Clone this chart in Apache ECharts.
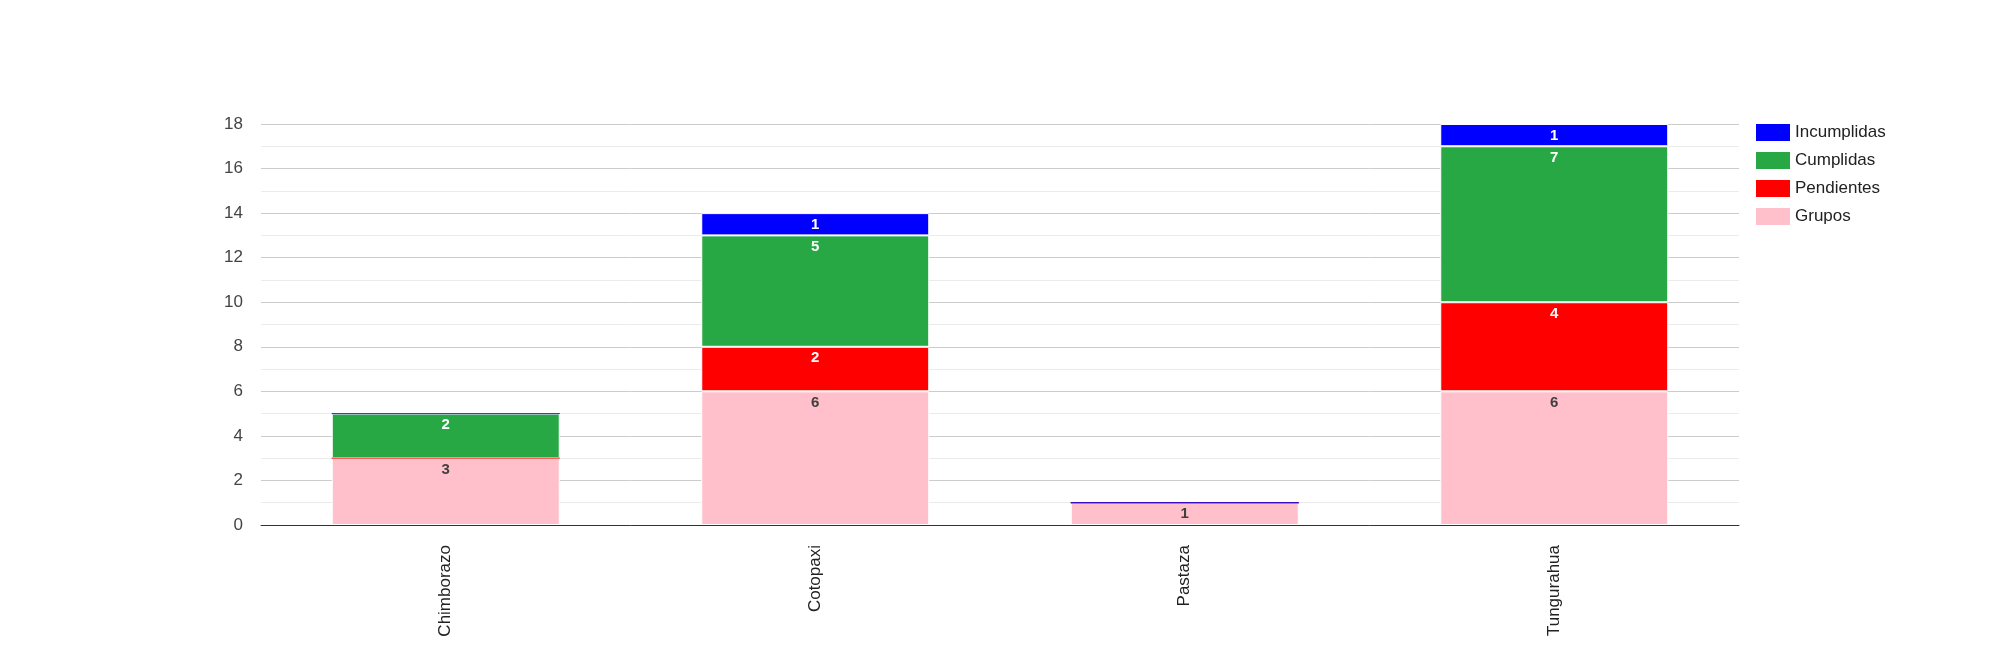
<!DOCTYPE html>
<html>
<head>
<meta charset="utf-8">
<script src="https://cdn.jsdelivr.net/npm/echarts@6/dist/echarts.min.js"></script>
<style>
  html, body { margin: 0; padding: 0; background: #fff; }
  #chart { width: 2000px; height: 650px; }
</style>
</head>
<body>
<div id="chart"></div>
<script>
var categories = ['Chimborazo', 'Cotopaxi', 'Pastaza', 'Tungurahua'];
var grupos = [3, 6, 1, 6];
var pendientes = [0, 2, 0, 4];
var cumplidas = [2, 5, 0, 7];
var incumplidas = [0, 1, 0, 1];
var legendOrder = ['Incumplidas', 'Cumplidas', 'Pendientes', 'Grupos'];

var fontFam = 'Arial, "Liberation Sans", sans-serif';

// serie apilada; los valores 0 se dibujan como una linea fina
function makeSeries(name, values, color, labelColor, z) {
    return {
        name: name,
        type: 'bar',
        stack: 'total',
        barWidth: '61.7%',
        z: z,
        itemStyle: { color: color, borderColor: '#fff', borderWidth: 1 },
        label: {
            show: true,
            position: 'insideTop',
            distance: 4,
            color: labelColor,
            fontSize: 15,
            fontWeight: 'bold',
            fontFamily: fontFam,
            formatter: function (p) { return p.value === 0 ? '' : p.value; }
        },
        data: values.map(function (v) {
            if (v === 0) {
                return { value: v, itemStyle: { borderColor: color, opacity: 0.6 } };
            }
            return v;
        })
    };
}

var myChart = echarts.init(document.getElementById('chart'));
var option = {
    animation: false,
    textStyle: { fontFamily: fontFam },
    grid: { left: 261, right: 261, top: 124, bottom: 125 },
    legend: {
        orient: 'vertical',
        left: 1751,
        top: 119,
        icon: 'rect',
        itemWidth: 34,
        itemHeight: 17,
        itemGap: 11,
        data: legendOrder,
        itemStyle: { borderWidth: 0 },
        textStyle: { fontSize: 17, lineHeight: 17, color: '#222' }
    },
    xAxis: {
        type: 'category',
        data: categories,
        axisTick: { show: false },
        axisLine: { lineStyle: { color: '#333', width: 1 } },
        axisLabel: { rotate: 90, margin: 20, fontSize: 17, color: '#222' }
    },
    yAxis: {
        type: 'value',
        min: 0,
        max: 18,
        interval: 2,
        axisLine: { show: false },
        axisTick: { show: false },
        axisLabel: { margin: 18, fontSize: 17, color: '#444' },
        splitLine: { lineStyle: { color: '#cccccc' } },
        minorTick: { show: false, splitNumber: 2 },
        minorSplitLine: { show: true, lineStyle: { color: '#ebebeb' } }
    },
    series: [
        makeSeries('Grupos', grupos, '#ffc0cb', '#404040', 2),
        makeSeries('Pendientes', pendientes, '#ff0000', '#ffffff', 5),
        makeSeries('Cumplidas', cumplidas, '#28a745', '#ffffff', 3),
        makeSeries('Incumplidas', incumplidas, '#0000ff', '#ffffff', 6)
    ]
};
myChart.setOption(option);
</script>
</body>
</html>
